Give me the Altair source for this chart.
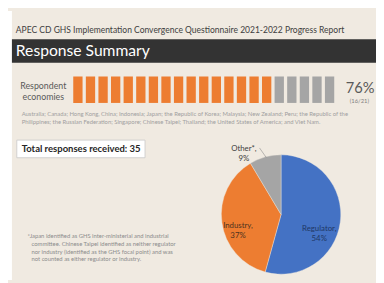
import altair as alt
import pandas as pd

# ---------------- data ----------------
report_title = "APEC CD GHS Implementation Convergence Questionnaire 2021-2022 Progress Report"
section_title = "Response Summary"

respondents = ["Australia", "Canada", "Hong Kong, China", "Indonesia", "Japan",
               "the Republic of Korea", "Malaysia", "New Zealand", "Peru",
               "the Republic of the Philippines", "the Russian Federation", "Singapore",
               "Chinese Taipei", "Thailand", "the United States of America", "Viet Nam"]
non_respondents = ["Brunei Darussalam", "Chile", "China", "Mexico", "Papua New Guinea"]

country_lines = [
    "Australia; Canada; Hong Kong, China; Indonesia; Japan; the Republic of Korea; Malaysia; New Zealand; Peru; the Republic of the",
    "Philippines; the Russian Federation; Singapore; Chinese Taipei; Thailand; the United States of America; and Viet Nam.",
]

total_responses = 35
pie_categories = ["Regulator", "Industry", "Other*"]
pie_counts = [19, 13, 3]

footnote_lines = [
    "*Japan identified as GHS inter-ministerial and industrial",
    "committee. Chinese Taipei identified as neither regulator",
    "nor industry (identified as the GHS focal point) and was",
    "not counted as either regulator or industry.",
]

# ---------------- styling ----------------
FONT = "Lato"
BG = "#F0EAE1"
ORANGE = "#ED7D31"
GRAY = "#A5A5A5"
BLUE = "#4472C4"

n_total = len(respondents) + len(non_respondents)
pct_resp = round(100 * len(respondents) / n_total)

bars_df = pd.DataFrame({
    "economy": respondents + non_respondents,
    "pos": list(range(1, n_total + 1)),
    "status": ["Responded"] * len(respondents) + ["No response"] * len(non_respondents),
})

pie_df = pd.DataFrame({
    "category": pie_categories,
    "count": pie_counts,
    "order": list(range(len(pie_categories))),
})

one = pd.DataFrame({"d": [0]})


def text_layer(s, x, y, size, color, align="left", weight="normal", baseline="middle"):
    return alt.Chart(pd.DataFrame({"t": [s]})).mark_text(
        font=FONT, fontSize=size, color=color, align=align, baseline=baseline,
        fontWeight=weight, lineBreak="\n",
    ).encode(text="t:N", x=alt.value(x), y=alt.value(y))


def rect_layer(x, x2, y, y2, fill, stroke=None, sw=0):
    kw = dict(fill=fill)
    if stroke:
        kw.update(stroke=stroke, strokeWidth=sw)
    return alt.Chart(one).mark_rect(**kw).encode(
        x=alt.value(x), x2=alt.value(x2), y=alt.value(y), y2=alt.value(y2))


layers = []

# left white strip
layers.append(rect_layer(0, 4, 0, 275, "#FFFFFF"))
# header
layers.append(text_layer(report_title, 8, 20, 8.7, "#404040"))
layers.append(rect_layer(4, 376, 29, 53, "#333333"))
layers.append(text_layer(section_title, 8, 41.5, 16, "#FFFFFF"))

# respondent economies bars
layers.append(text_layer("Respondent\neconomies", 36, 77, 9, "#595959", align="center"))
bars = alt.Chart(bars_df).transform_calculate(
    x0="datum.pos - 0.37", x1="datum.pos + 0.37"
).mark_rect().encode(
    x=alt.X("x0:Q", scale=alt.Scale(domain=[0.5, n_total + 0.5], range=[65, 335]), axis=None),
    x2="x1:Q",
    y=alt.value(67),
    y2=alt.value(94),
    color=alt.Color("status:N", scale=alt.Scale(domain=["Responded", "No response"],
                                                 range=[ORANGE, GRAY]), legend=None),
)
layers.append(bars)
layers.append(text_layer(f"{pct_resp}%", 345, 79, 15, "#595959"))
layers.append(text_layer(f"({len(respondents)}/{n_total})", 359, 92.5, 6, "#7F7F7F", align="center"))
layers.append(text_layer(country_lines[0], 14, 105, 6.0, "#A0A0A0"))
layers.append(text_layer(country_lines[1], 14, 114, 6.0, "#A0A0A0"))

# total responses box
layers.append(rect_layer(9, 140, 132, 150, "#FFFFFF", stroke="#C8C8C8", sw=0.8))
layers.append(text_layer(f"Total responses received: {total_responses}", 14, 141.5, 9.7, "#262626", weight="bold"))

# pie
pie = alt.Chart(pie_df).mark_arc(outerRadius=61, stroke=BG, strokeWidth=0.4).encode(
    theta=alt.Theta("count:Q", stack=True),
    order=alt.Order("order:Q"),
    color=alt.Color("category:N", scale=alt.Scale(domain=pie_categories,
                                                   range=[BLUE, ORANGE, GRAY]), legend=None),
    x=alt.value(279),
    y=alt.value(208),
)
layers.append(pie)

pcts = [round(100 * c / total_responses) for c in pie_counts]
layers.append(text_layer(f"{pie_categories[0]},\n{pcts[0]}%", 318, 223, 8, "#1F3864", align="center"))
layers.append(text_layer(f"{pie_categories[1]},\n{pcts[1]}%", 235, 220, 8, "#4D3320", align="center"))
layers.append(text_layer(f"{pie_categories[2]},\n{pcts[2]}%", 241, 141, 8, "#404040", align="center"))
layers.append(alt.Chart(one).mark_rule(color="#8C8C8C", strokeWidth=0.6).encode(
    x=alt.value(257), x2=alt.value(264), y=alt.value(140), y2=alt.value(150)))

# footnote
for i, line in enumerate(footnote_lines):
    layers.append(text_layer(line, 20 if i == 0 else 24, 230 + 8 * i, 6.0, "#8C8C8C"))

chart = alt.layer(*layers).resolve_scale(
    x="independent", y="independent", color="independent", theta="independent"
).properties(
    width=376, height=275, background=BG, padding=0,
    autosize=alt.AutoSizeParams(type="none"),
).configure_view(stroke=None)

chart.save("out.html", embed_options={"renderer": "svg", "actions": False})
